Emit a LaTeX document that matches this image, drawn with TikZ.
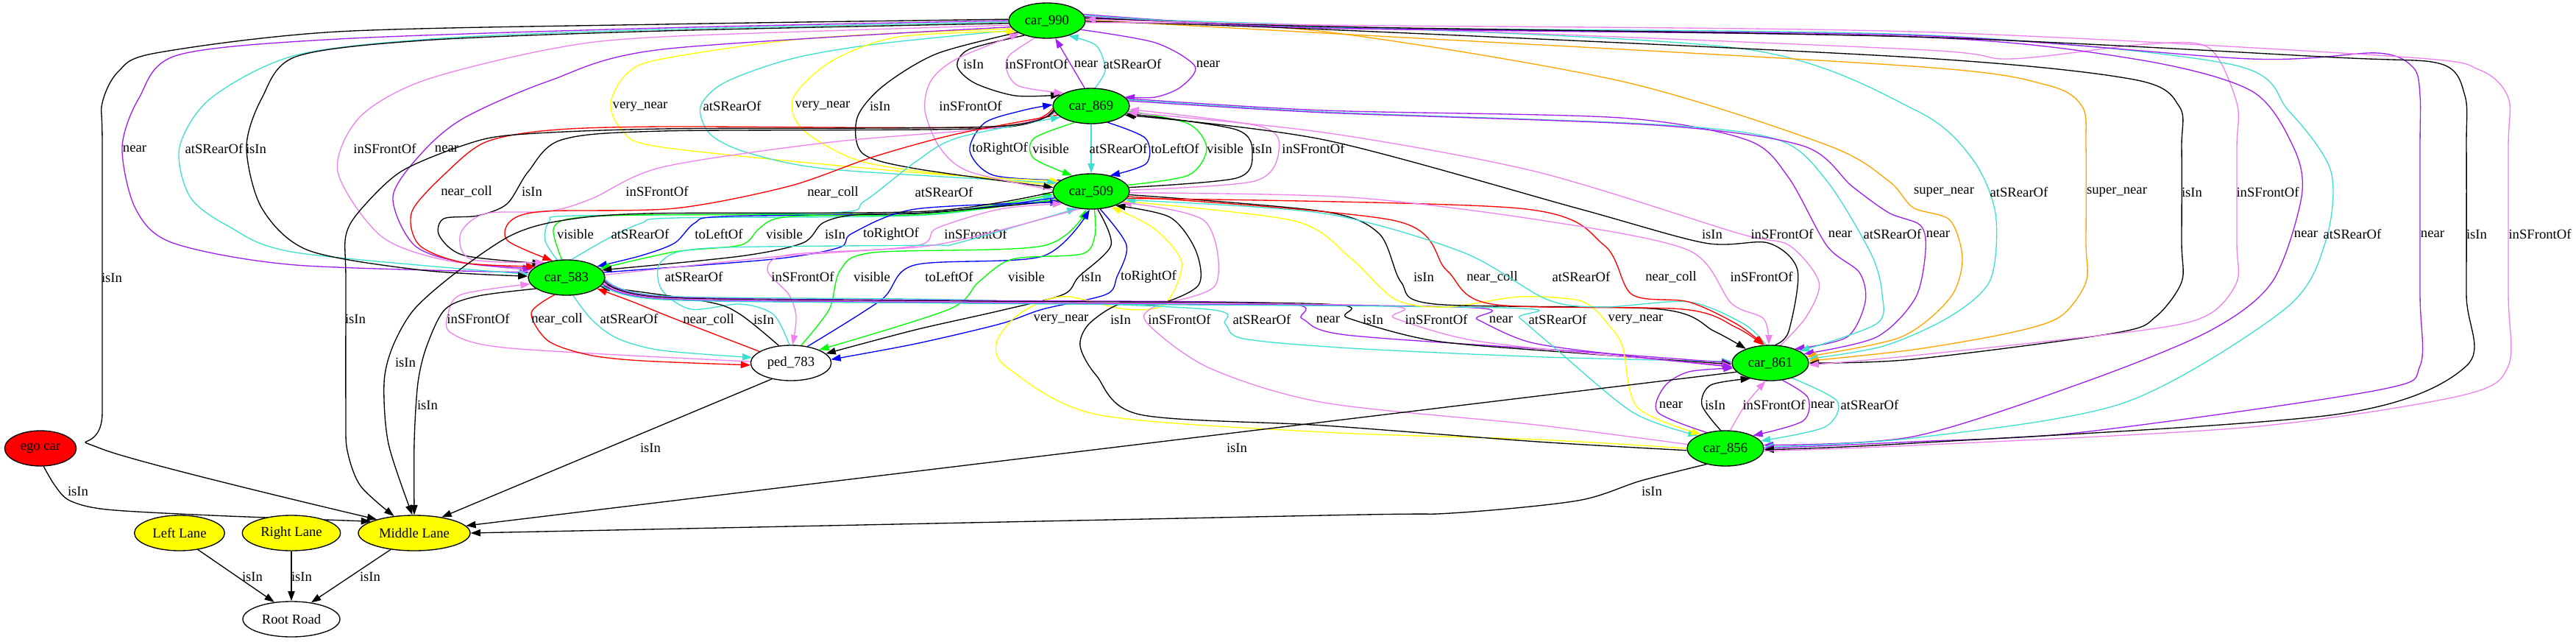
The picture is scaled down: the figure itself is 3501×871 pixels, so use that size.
\documentclass[tikz,border=0pt]{standalone}
\usepackage{fontspec}
\setmainfont{Liberation Serif}
\usetikzlibrary{shapes.geometric,arrows.meta}
\definecolor{gvgreen}{HTML}{00FF00}
\definecolor{gvyellow}{HTML}{FFFF00}
\definecolor{gvpurple}{HTML}{A020F0}
\definecolor{gvviolet}{HTML}{EE82EE}
\definecolor{gvturq}{HTML}{40E0D0}
\definecolor{gvorange}{HTML}{FFA500}
\definecolor{gvred}{HTML}{FF0000}
\definecolor{gvblue}{HTML}{0000FF}
\pgfdeclarelayer{edgelayer}
\pgfsetlayers{edgelayer,main}
\tikzset{
  gnode/.style={ellipse, draw=black, line width=1pt, minimum height=36pt, inner sep=0pt, font=\fontsize{14}{16}\selectfont},
  carnode/.style={gnode, fill=gvgreen, minimum width=78pt},
  lanenode/.style={gnode, fill=gvyellow},
  lbl/.style={font=\fontsize{14}{16}\selectfont, inner sep=0pt, text=black},
  rel/.style={line width=1pt, -{Triangle[length=10pt,width=7pt]}},
  eIs/.style={rel, color=black},
  eNear/.style={rel, color=gvpurple},
  eRear/.style={rel, color=gvturq},
  eFront/.style={rel, color=gvviolet},
  eVnear/.style={rel, color=gvyellow},
  eSnear/.style={rel, color=gvorange},
  eColl/.style={rel, color=gvred},
  eLeft/.style={rel, color=gvblue},
  eRight/.style={rel, color=gvblue},
  eVis/.style={rel, color=gvgreen}
}
\newcommand{\myedge}[4]{\draw[#1] plot[smooth,tension=0.5] coordinates {#2} node[lbl] at (#3) {#4};}
\begin{document}
\begin{tikzpicture}[x=0.75pt, y=-0.75pt]
\useasboundingbox (0,0) rectangle (3501,871);
% nodes
\node[carnode] (c990) at (1423,28) {car\_990};
\node[carnode] (c869) at (1483,144) {car\_869};
\node[carnode] (c509) at (1483,260) {car\_509};
\node[carnode] (c583) at (770,377) {car\_583};
\node[gnode, fill=white, minimum width=82pt] (c783) at (1075,493) {ped\_783};
\node[carnode] (c861) at (2406,493) {car\_861};
\node[carnode] (c856) at (2345,609) {car\_856};
\node[gnode, fill=gvred, minimum width=73pt] (ego) at (55,609) {ego car};
\node[lanenode, minimum width=92pt] (LL) at (244,724) {Left Lane};
\node[lanenode, minimum width=100pt] (RL) at (396,724) {Right Lane};
\node[lanenode, minimum width=114pt] (ML) at (563,724) {Middle Lane};
\node[gnode, fill=white, minimum width=99pt] (RR) at (396,841) {Root Road};
\begin{pgfonlayer}{edgelayer}
% car_990 <-> car_869
\myedge{eIs}{(c990.213) (1317,67) (1301,90) (1325,113) (1380,130) (c869.160)}{1323,87}{isIn}
\myedge{eFront}{(c990.235) (1372,75) (1368,95) (1385,117) (c869.155)}{1409,87}{inSFrontOf}
\myedge{eNear}{(c869.110) (c990.295)}{1476,87}{near}
\myedge{eRear}{(c869.78) (1502,95) (1490,62) (c990.325)}{1539,87}{atSRearOf}
\myedge{eNear}{(c990.345) (1570,58) (1624,90) (1605,118) (1570,132) (c869.15)}{1642,87}{near}
% car_869 <-> car_509
\myedge{eRight}{(c509.160) (1350,238) (1318,205) (1338,167) (1390,150) (c869.178)}{1359,202}{toRightOf}
\myedge{eVis}{(c869.225) (1405,188) (1405,215) (c509.140)}{1428,202}{visible}
\myedge{eRear}{(c869.270) (c509.90)}{1520,202}{atSRearOf}
\myedge{eLeft}{(c869.315) (1557,188) (1558,222) (c509.40)}{1597,202}{toLeftOf}
\myedge{eVis}{(c509.10) (1615,238) (1640,202) (1615,168) (c869.352)}{1665,202}{visible}
\myedge{eIs}{(c509.6) (1680,242) (1702,210) (1680,176) (c869.348)}{1715,202}{isIn}
\myedge{eFront}{(c509.2) (1705,246) (1738,205) (1714,172) (c869.355)}{1785,202}{inSFrontOf}
% car_990 <-> car_509
\myedge{eVnear}{(c990.193) (1100,52) (900,80) (852,100) (830,140) (845,176) (900,200) (1240,234) (c509.162)}{870,145}{very\_near}
\myedge{eRear}{(c990.196) (1190,60) (1075,80) (985,112) (952,145) (965,182) (1015,207) (1130,230) (c509.166)}{995,144}{atSRearOf}
\myedge{eVnear}{(c509.170) (1244,232) (1158,215) (1090,175) (1078,133) (1130,83) (1221,50) (c990.199)}{1118,144}{very\_near}
\myedge{eIs}{(c990.202) (1273,73) (1200,117) (1165,160) (1172,208) (1244,229) (c509.174)}{1196,144}{isIn}
\myedge{eFront}{(c509.178) (1317,233) (1277,200) (1257,150) (1265,110) (1300,80) (c990.205)}{1319,144}{inSFrontOf}
% car_990 -> car_583
\myedge{eNear}{(c990.180) (900,38) (460,53) (241,75) (189,133) (166,200) (184,283) (235,330) (402,360) (c583.172)}{183,202}{near}
\myedge{eRear}{(c990.182) (900,40) (600,52) (402,75) (287,133) (244,200) (258,267) (310,307) (402,343) (c583.175)}{291,202}{atSRearOf}
\myedge{eIs}{(c990.184) (900,42) (574,55) (402,77) (356,133) (335,200) (356,283) (419,340) (574,367) (c583.178)}{348,202}{isIn}
\myedge{eFront}{(c990.187) (900,50) (746,67) (574,110) (488,160) (459,233) (517,320) (603,353) (c583.168)}{523,202}{inSFrontOf}
\myedge{eNear}{(c990.190) (900,67) (746,110) (631,160) (574,207) (534,267) (563,333) (631,357) (c583.165)}{607,202}{near}
% car_869 <-> car_583
\myedge{eColl}{(c869.183) (1350,172) (900,172) (746,177) (660,193) (608,233) (560,287) (570,333) (631,357) (c583.160)}{634,260}{near\_coll}
\myedge{eIs}{(c869.186) (1350,174) (900,178) (763,190) (718,233) (689,277) (649,293) (603,297) (597,320) (631,347) (c583.150)}{723,260}{isIn}
\myedge{eFront}{(c869.191) (1359,173) (1130,193) (900,227) (804,270) (746,287) (660,290) (626,317) (640,352) (c583.145)}{893,260}{inSFrontOf}
\myedge{eColl}{(c869.195) (1300,182) (1187,213) (1072,253) (917,283) (740,287) (694,300) (690,327) (c583.130)}{1132,261}{near\_coll}
\myedge{eRear}{(c583.118) (741,327) (747,300) (783,293) (1130,289) (1175,273) (1244,220) (1302,187) (c869.200)}{1283,261}{atSRearOf}
% car_583 <-> car_509
\myedge{eVis}{(c583.105) (752,312) (775,297) (872,292) (1260,289) (c509.184)}{782,318}{visible}
\myedge{eRear}{(c583.75) (828,323) (872,303) (917,296) (1260,292) (c509.187)}{870,318}{atSRearOf}
\myedge{eLeft}{(c509.190) (1260,289) (984,294) (944,303) (917,330) (872,347) (c583.20)}{977,318}{toLeftOf}
\myedge{eVis}{(c509.193) (1260,291) (1096,293) (1051,298) (1030,312) (1006,333) (917,342) (c583.15)}{1066,318}{visible}
\myedge{eIs}{(c509.196) (1260,289) (1160,292) (1118,303) (1091,330) (1006,348) (c583.12)}{1135,318}{isIn}
\myedge{eRight}{(c583.8) (1051,352) (1141,336) (1158,317) (1244,284) (c509.199)}{1211,318}{toRightOf}
\myedge{eFront}{(c583.4) (1051,349) (1244,334) (1273,310) (1359,284) (c509.203)}{1326,318}{inSFrontOf}
% car_509 <-> ped_783
\myedge{eRear}{(c783.95) (1051,427) (1006,413) (939,420) (899,393) (899,355) (962,337) (1260,333) (1302,330) (c509.230)}{943,376}{atSRearOf}
\myedge{eFront}{(c509.237) (1330,320) (1244,336) (1072,346) (1043,367) (1072,400) (1082,430) (c783.85)}{1091,376}{inSFrontOf}
\myedge{eVis}{(c783.60) (1127,420) (1142,367) (1187,343) (1417,334) (c509.255)}{1185,376}{visible}
\myedge{eLeft}{(c783.45) (1198,407) (1243,360) (1417,348) (c509.265)}{1290,376}{toLeftOf}
\myedge{eVis}{(c509.280) (1488,320) (1470,345) (1376,352) (1330,383) (1290,420) (c783.25)}{1395,376}{visible}
\myedge{eIs}{(c509.290) (1510,333) (1466,376) (1445,400) (1359,422) (1244,448) (c783.15)}{1483,376}{isIn}
\myedge{eRight}{(c509.297) (1531,333) (1518,376) (1503,400) (1417,420) (1359,440) (1244,467) (c783.5)}{1561,376}{toRightOf}
% car_583 <-> ped_783
\myedge{eFront}{(c783.178) (694,473) (614,453) (609,427) (627,400) (c583.190)}{650,433}{inSFrontOf}
\myedge{eColl}{(c583.235) (722,425) (745,463) (800,482) (872,490) (c783.183)}{757,433}{near\_coll}
\myedge{eRear}{(c583.290) (805,435) (840,460) (900,476) (c783.172)}{855,433}{atSRearOf}
\myedge{eColl}{(c783.160) (917,433) (860,410) (c583.340)}{963,434}{near\_coll}
\myedge{eIs}{(c783.125) (1006,427) (962,410) (c583.345)}{1038,434}{isIn}
% car_856 -> car_509
\myedge{eVnear}{(c856.180) (2090,597) (1800,587) (1491,563) (1370,500) (1354,467) (1377,433) (1415,410) (1453,403) (1530,420) (1583,413) (1606,357) (1568,310) (c509.322)}{1442,434}{very\_near}
\myedge{eIs}{(c856.183) (2090,600) (1800,578) (1549,563) (1490,510) (1468,470) (1480,440) (1522,413) (1575,413) (1629,387) (1625,340) (1590,295) (c509.330)}{1523,434}{isIn}
\myedge{eFront}{(c856.174) (2087,577) (1800,547) (1644,500) (1560,440) (1568,417) (1652,387) (1637,300) (c509.340)}{1603,434}{inSFrontOf}
% car_583 -> car_861 / car_856
\myedge{eRear}{(c583.358) (900,402) (1300,407) (1640,420) (1665,440) (1690,460) (1836,473) (2100,485) (c861.178)}{1715,434}{atSRearOf}
\myedge{eNear}{(c583.356) (900,403) (1300,408) (1740,412) (1770,433) (1830,455) (2141,477) (c861.180)}{1805,434}{near}
\myedge{eIs}{(c583.354) (900,404) (1300,409) (1800,413) (1832,432) (1950,463) (2150,480) (c861.182)}{1866,434}{isIn}
\myedge{eFront}{(c583.352) (900,405) (1300,410) (1870,415) (1895,432) (2000,462) (2180,482) (c861.184)}{1952,434}{inSFrontOf}
\myedge{eNear}{(c583.350) (900,406) (1300,411) (1980,417) (2008,434) (2080,465) (2200,482) (c861.186)}{2040,434}{near}
\myedge{eRear}{(c583.348) (900,407) (1300,412) (2040,418) (2065,432) (2110,470) (2219,560) (c856.155)}{2117,434}{atSRearOf}
\myedge{eVnear}{(c509.343) (1759,300) (1835,350) (1897,407) (1966,417) (2065,403) (2141,407) (2167,420) (2185,440) (2205,470) (2225,553) (c856.150)}{2223,434}{very\_near}
% car_509 <-> car_861
\myedge{eIs}{(c509.355) (1797,287) (1874,317) (1904,383) (1950,413) (2256,420) (2330,450) (c861.150)}{1935,376}{isIn}
\myedge{eColl}{(c509.352) (1897,300) (1966,367) (2027,413) (2287,420) (2360,445) (c861.112)}{2028,376}{near\_coll}
\myedge{eRear}{(c861.103) (2370,440) (2295,410) (2180,417) (2103,407) (1989,343) (1800,290) (c509.346)}{2149,376}{atSRearOf}
\myedge{eColl}{(c509.349) (2065,283) (2180,333) (2218,400) (2295,410) (2360,440) (c861.108)}{2271,376}{near\_coll}
\myedge{eFront}{(c509.358) (1835,268) (2100,300) (2295,340) (2353,412) (2397,433) (c861.95)}{2394,376}{inSFrontOf}
% car_869 <-> car_861
\myedge{eIs}{(c861.75) (2431,450) (2443,367) (2403,330) (2317,330) (2144,283) (1800,190) (c869.345)}{2327,318}{isIn}
\myedge{eFront}{(c861.60) (2455,430) (2472,383) (2431,333) (2363,317) (2087,233) (1800,180) (c869.350)}{2422,318}{inSFrontOf}
\myedge{eNear}{(c869.12) (1800,150) (2202,160) (2374,190) (2430,240) (2483,334) (2527,370) (2535,410) (2510,458) (c861.30)}{2501,318}{near}
\myedge{eRear}{(c869.10) (1800,152) (2250,169) (2417,190) (2483,246) (2543,345) (2558,400) (2550,440) (c861.22)}{2572,318}{atSRearOf}
\myedge{eNear}{(c869.8) (1800,153) (2250,170) (2450,198) (2517,253) (2567,289) (2610,306) (2617,340) (2603,405) (2550,458) (c861.15)}{2634,318}{near}
% car_990 -> car_861
\myedge{eSnear}{(c990.5) (1800,43) (2202,110) (2483,197) (2567,246) (2600,282) (2650,299) (2667,352) (2650,405) (2583,458) (c861.10)}{2642,261}{super\_near}
\myedge{eRear}{(c990.3) (1800,35) (2374,67) (2604,150) (2680,215) (2712,290) (2705,380) (2650,430) (2560,470) (c861.6)}{2744,261}{atSRearOf}
\myedge{eSnear}{(c990.1) (1800,45) (2600,90) (2780,115) (2830,145) (2835,200) (2835,330) (2835,383) (2800,430) (2732,452) (2600,475) (c861.3)}{2877,261}{super\_near}
\myedge{eIs}{(c990.359) (1800,40) (2600,78) (2900,108) (2962,145) (2965,200) (2965,330) (2965,383) (2930,430) (2876,452) (2600,488) (c861.0)}{2979,261}{isIn}
\myedge{eFront}{(c990.357) (1800,35) (2600,67) (2732,80) (2916,60) (3002,65) (3040,140) (3040,200) (3040,330) (3040,383) (3002,427) (2916,448) (2600,483) (c861.357)}{3082,261}{inSFrontOf}
% car_990 <-> car_856
\myedge{eNear}{(c990.10) (1800,38) (2600,50) (2900,80) (3059,123) (3117,200) (3128,267) (3088,383) (3002,450) (2830,520) (2600,593) (c856.5)}{3134,318}{near}
\myedge{eRear}{(c990.8) (1800,37) (2600,47) (3030,87) (3110,150) (3168,233) (3160,330) (3105,420) (2887,547) (2600,595) (c856.2)}{3197,318}{atSRearOf}
\myedge{eNear}{(c990.6) (1800,38) (2600,48) (3059,80) (3231,72) (3280,92) (3289,130) (3289,200) (3289,400) (3289,497) (3231,530) (2830,587) (2600,600) (c856.0)}{3306,318}{near}
\myedge{eIs}{(c990.4) (1800,36) (2600,50) (3174,78) (3318,87) (3350,130) (3352,200) (3352,400) (3352,497) (3174,563) (2600,602) (c856.358)}{3366,318}{isIn}
\myedge{eFront}{(c856.356) (2600,605) (3059,580) (3346,537) (3409,497) (3409,400) (3409,200) (3409,133) (3370,95) (3260,77) (2600,43) (1800,34) (c990.2)}{3452,318}{inSFrontOf}
% car_856 <-> car_861
\myedge{eNear}{(c856.140) (2253,560) (2262,525) (2295,505) (c861.188)}{2271,550}{near}
\myedge{eIs}{(c856.105) (2313,550) (2325,523) (c861.218)}{2331,550}{isIn}
\myedge{eFront}{(c856.75) (2372,550) (c861.255)}{2411,550}{inSFrontOf}
\myedge{eNear}{(c861.305) (2457,540) (2450,572) (c856.25)}{2477,550}{near}
\myedge{eRear}{(c861.325) (2497,545) (2480,580) (c856.12)}{2541,550}{atSRearOf}
% isIn -> Middle Lane
\myedge{eIs}{(c990.178) (900,33) (459,43) (212,72) (161,97) (139,140) (139,200) (139,560) (139,610) (ML.160)}{152,377}{isIn}
\myedge{eIs}{(c869.188) (1350,172) (900,175) (700,183) (631,197) (545,233) (490,285) (470,320) (470,380) (470,560) (472,612) (490,660) (ML.140)}{483,433}{isIn}
\myedge{eIs}{(c583.200) (650,402) (605,420) (580,470) (568,520) (563,600) (ML.90)}{581,550}{isIn}
\myedge{eIs}{(c509.181) (1260,287) (880,290) (761,300) (694,320) (620,370) (563,420) (534,470) (522,520) (528,603) (ML.96)}{551,492}{isIn}
\myedge{eIs}{(c783.220) (ML.30)}{884,608}{isIn}
\myedge{eIs}{(c861.195) (ML.8)}{1681,608}{isIn}
\myedge{eIs}{(c856.220) (2230,653) (2144,680) (1972,697) (1800,700) (ML.0)}{2245,667}{isIn}
\myedge{eIs}{(ego.280) (75,660) (95,680) (145,692) (287,700) (ML.165)}{106,667}{isIn}
% lanes -> Root Road
\myedge{eIs}{(LL.318) (RR.135)}{343,783}{isIn}
\myedge{eIs}{(RL.270) (RR.90)}{410,783}{isIn}
\myedge{eIs}{(ML.215) (RR.40)}{503,783}{isIn}
\end{pgfonlayer}
\end{tikzpicture}
\end{document}
